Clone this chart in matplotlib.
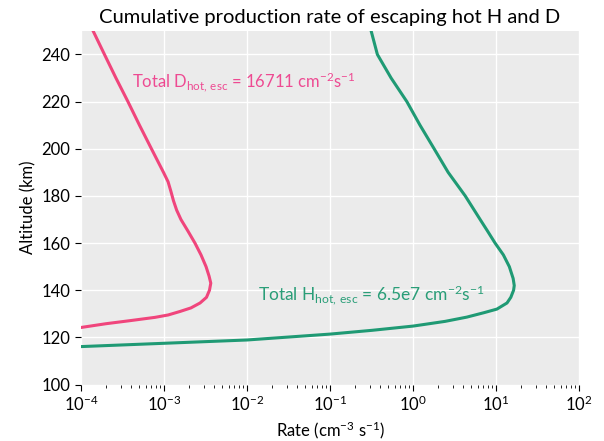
import numpy as np
import matplotlib
matplotlib.use("Agg")
import matplotlib.pyplot as plt
from matplotlib.ticker import LogLocator, NullFormatter

# altitude (km) and cumulative rate (cm^-3 s^-1)
alt_D = [250, 240, 230, 220, 210, 200, 190, 186, 182, 178, 174, 170, 165, 160, 155,
         150, 146, 143, 140, 137, 134.6, 132.5, 131, 129.5, 128.5, 127.1, 125.8, 124.2]
rate_D = [1.40e-4, 1.92e-4, 2.64e-4, 3.68e-4, 5.07e-4, 7.06e-4, 9.86e-4, 1.12e-3, 1.21e-3,
          1.30e-3, 1.42e-3, 1.60e-3, 1.95e-3, 2.36e-3, 2.79e-3, 3.21e-3, 3.49e-3, 3.66e-3,
          3.53e-3, 3.25e-3, 2.72e-3, 2.11e-3, 1.56e-3, 1.12e-3, 7.8e-4, 3.9e-4, 2.0e-4, 1.0e-4]

alt_H = [250, 240, 230, 220, 210, 200, 190, 180, 170, 165, 160, 155, 150, 145, 142, 140, 137,
         134.6, 132, 130.5, 128.6, 126.8, 124.8, 123, 121.4, 118.9, 117.5, 116.1]
rate_H = [0.312, 0.371, 0.543, 0.84, 1.21, 1.79, 2.64, 4.24, 6.41, 7.9, 9.7, 12.2, 14.4, 16.0,
          16.5, 16.2, 15.0, 13.5, 10.2, 7.16, 4.43, 2.43, 1.0, 0.32, 0.1, 0.01, 1e-3, 1e-4]

label_D = r"Total D$_{\mathrm{hot,\,esc}}$ = 16711 cm$^{-2}$s$^{-1}$"
label_H = r"Total H$_{\mathrm{hot,\,esc}}$ = 6.5e7 cm$^{-2}$s$^{-1}$"

col_D = "#f0457c"
col_H = "#1f9a74"

plt.rcParams["font.family"] = ["Lato", "DejaVu Sans"]
plt.rcParams["mathtext.fontset"] = "custom"
plt.rcParams["mathtext.rm"] = "Lato"
plt.rcParams["mathtext.it"] = "Lato"
plt.rcParams["mathtext.default"] = "regular"

fig = plt.figure(figsize=(6.04, 4.41), dpi=100)
ax = fig.add_axes([0.134, 0.128, 0.825, 0.802])
ax.set_facecolor("#ebebeb")
for s in ax.spines.values():
    s.set_visible(False)
ax.grid(True, color="white", linewidth=1.0)
ax.set_axisbelow(True)

ax.plot(rate_D, alt_D, color=col_D, linewidth=2.2, solid_joinstyle="round")
ax.plot(rate_H, alt_H, color=col_H, linewidth=2.2, solid_joinstyle="round")

ax.set_xscale("log")
ax.set_xlim(1e-4, 1e2)
ax.set_ylim(100, 250)
ax.set_yticks(np.arange(100, 241, 20))
ax.xaxis.set_major_locator(LogLocator(base=10, numticks=10))
ax.xaxis.set_minor_locator(LogLocator(base=10, subs=np.arange(2, 10), numticks=10))
ax.xaxis.set_minor_formatter(NullFormatter())
ax.tick_params(axis="both", which="major", length=4, labelsize=12, color="black")
ax.tick_params(axis="x", which="minor", length=2, color="black")

ax.text(4.1e-4, 228.3, label_D, color="#ee4a92", fontsize=12, va="center")
ax.text(0.0136, 137.7, label_H, color="#2a9e78", fontsize=12.5, va="center")

ax.set_title("Cumulative production rate of escaping hot H and D", fontsize=14.5, pad=6)
ax.set_xlabel(r"Rate (cm$^{-3}$ s$^{-1}$)", fontsize=12)
ax.set_ylabel("Altitude (km)", fontsize=12)

fig.savefig("out.png", dpi=100)
